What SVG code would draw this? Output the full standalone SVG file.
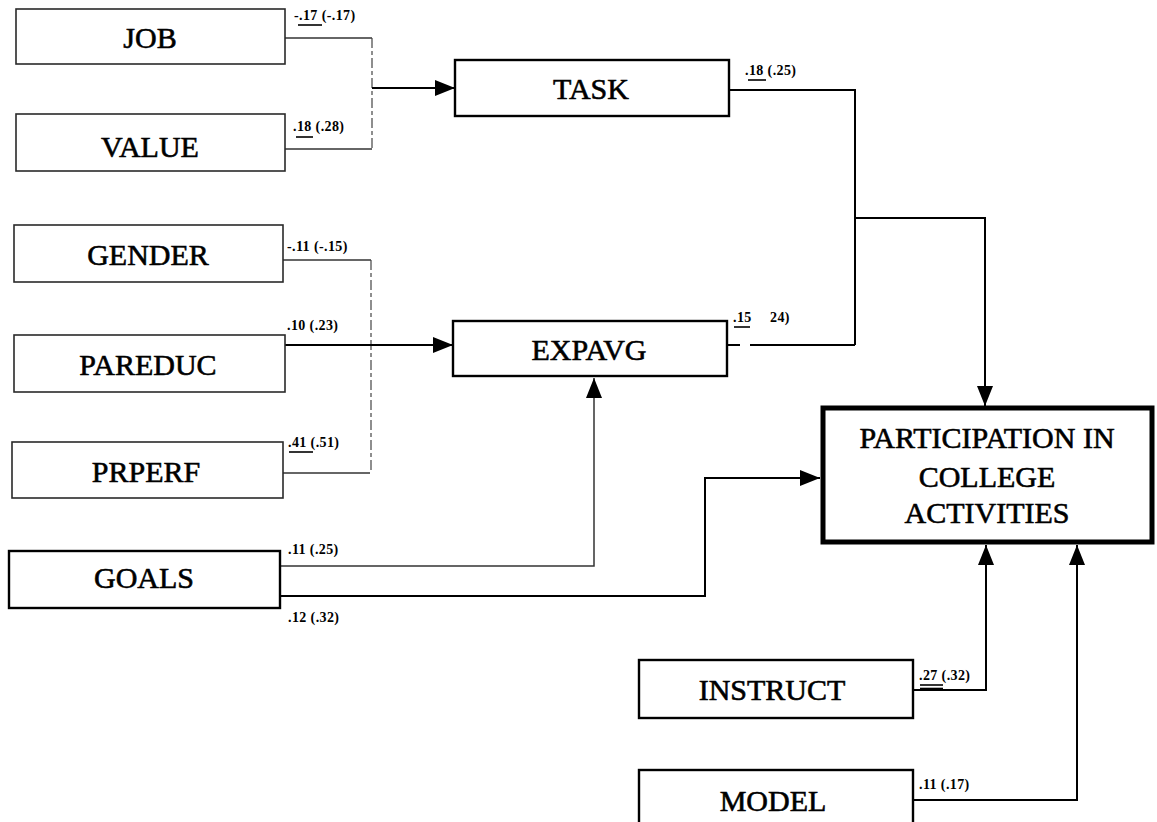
<svg xmlns="http://www.w3.org/2000/svg" width="1157" height="822" viewBox="0 0 1157 822">
  <style>
    .bg { fill: #ffffff; }
    .node-lite { fill: none; stroke: #2a2a2a; stroke-width: 1.6; }
    .node { fill: none; stroke: #000; stroke-width: 2.4; }
    .node-main { fill: none; stroke: #000; stroke-width: 5; }
    .name { font-family: "Liberation Serif", "Times New Roman", serif; font-size: 30px; fill: #000; stroke: #000; stroke-width: 0.6; text-anchor: middle; }
    .coef { font-family: "Liberation Serif", "Times New Roman", serif; font-size: 14px; font-weight: bold; fill: #000; letter-spacing: 0.4px; }
    .wire { fill: none; stroke: #000; stroke-width: 2; }
    .wire-lite { fill: none; stroke: #333; stroke-width: 1.5; }
    .wire-faint { fill: none; stroke: #444; stroke-width: 1.2; stroke-dasharray: 10 3 4 3; }
    .uline { stroke: #000; stroke-width: 1.6; }
  </style>
  <defs>
    <marker id="arrow" viewBox="0 0 20 16" refX="20" refY="8" markerWidth="20" markerHeight="16" markerUnits="userSpaceOnUse" orient="auto">
      <path d="M0,0 L20,8 L0,16 Z" fill="#000"/>
    </marker>
  </defs>

  <rect class="bg" x="0" y="0" width="1157" height="822"/>

  <!-- connectors -->
  <g id="connectors">
    <!-- JOB / VALUE into TASK -->
    <path class="wire-lite" d="M285,38 H372"/>
    <path class="wire-lite" d="M285,149 H372"/>
    <path class="wire-faint" d="M372,38 V149"/>
    <path class="wire" d="M372,88 H455" marker-end="url(#arrow)"/>

    <!-- GENDER / PAREDUC / PRPERF into EXPAVG -->
    <path class="wire-lite" d="M283,260 H371"/>
    <path class="wire-lite" d="M283,473 H370"/>
    <path class="wire-faint" d="M371,260 V473"/>
    <path class="wire" d="M285,345 H453" marker-end="url(#arrow)"/>

    <!-- GOALS into EXPAVG -->
    <path class="wire-lite" d="M280,566 H594 V378" marker-end="url(#arrow)"/>

    <!-- GOALS into PARTICIPATION -->
    <path class="wire" d="M280,596 H705 V478 H820" marker-end="url(#arrow)"/>

    <!-- TASK and EXPAVG into PARTICIPATION -->
    <path class="wire" d="M729,90 H855 V345"/>
    <path class="wire" d="M727,345 H740"/>
    <path class="wire" d="M750,345 H855"/>
    <path class="wire" d="M855,218 H985 V406" marker-end="url(#arrow)"/>

    <!-- INSTRUCT and MODEL into PARTICIPATION -->
    <path class="wire" d="M913,690 H986 V545" marker-end="url(#arrow)"/>
    <path class="wire" d="M913,800 H1077 V545" marker-end="url(#arrow)"/>
  </g>

  <!-- coefficient labels -->
  <g id="coefficients">
    <text class="coef" x="294" y="20">-.17 (-.17)</text>
    <line class="uline" x1="298" y1="25" x2="322" y2="25"/>
    <text class="coef" x="293" y="131">.18 (.28)</text>
    <line class="uline" x1="296" y1="137" x2="313" y2="137"/>

    <text class="coef" x="287" y="251">-.11 (-.15)</text>
    <text class="coef" x="287" y="330">.10 (.23)</text>
    <text class="coef" x="288" y="447">.41 (.51)</text>
    <line class="uline" x1="289" y1="452" x2="313" y2="452"/>

    <text class="coef" x="288" y="554">.11 (.25)</text>
    <text class="coef" x="288" y="622">.12 (.32)</text>

    <text class="coef" x="745" y="75">.18 (.25)</text>
    <line class="uline" x1="748" y1="80" x2="766" y2="80"/>

    <text class="coef" x="733" y="322">.15</text>
    <text class="coef" x="770" y="322">24)</text>
    <line class="uline" x1="734" y1="327" x2="750" y2="327"/>

    <text class="coef" x="919" y="680">.27 (.32)</text>
    <line class="uline" x1="920" y1="685" x2="943" y2="685"/>
    <line class="uline" x1="920" y1="688.5" x2="943" y2="688.5"/>

    <text class="coef" x="919" y="789">.11 (.17)</text>
  </g>

  <!-- nodes -->
  <g id="job">
    <rect class="node-lite" x="16" y="9" width="269" height="55"/>
    <text class="name" x="150" y="48">JOB</text>
  </g>
  <g id="value">
    <rect class="node-lite" x="16" y="114" width="269" height="57"/>
    <text class="name" x="150" y="157">VALUE</text>
  </g>
  <g id="gender">
    <rect class="node-lite" x="14" y="225" width="269" height="57"/>
    <text class="name" x="148" y="265">GENDER</text>
  </g>
  <g id="pareduc">
    <rect class="node-lite" x="14" y="335" width="271" height="57"/>
    <text class="name" x="148" y="375">PAREDUC</text>
  </g>
  <g id="prperf">
    <rect class="node-lite" x="12" y="442" width="271" height="56"/>
    <text class="name" x="146" y="482">PRPERF</text>
  </g>
  <g id="goals">
    <rect class="node" x="9" y="551" width="271" height="57"/>
    <text class="name" x="144" y="588">GOALS</text>
  </g>
  <g id="task">
    <rect class="node" x="455" y="60" width="274" height="56"/>
    <text class="name" x="591" y="99">TASK</text>
  </g>
  <g id="expavg">
    <rect class="node" x="453" y="321" width="274" height="55"/>
    <text class="name" x="589" y="360">EXPAVG</text>
  </g>
  <g id="participation">
    <rect class="node-main" x="823" y="408" width="329" height="134"/>
    <text class="name" x="987" y="448">PARTICIPATION IN</text>
    <text class="name" x="987" y="487">COLLEGE</text>
    <text class="name" x="987" y="523">ACTIVITIES</text>
  </g>
  <g id="instruct">
    <rect class="node" x="639" y="660" width="274" height="58"/>
    <text class="name" x="772" y="700">INSTRUCT</text>
  </g>
  <g id="model">
    <rect class="node" x="639" y="770" width="274" height="58"/>
    <text class="name" x="773" y="811">MODEL</text>
  </g>
</svg>
